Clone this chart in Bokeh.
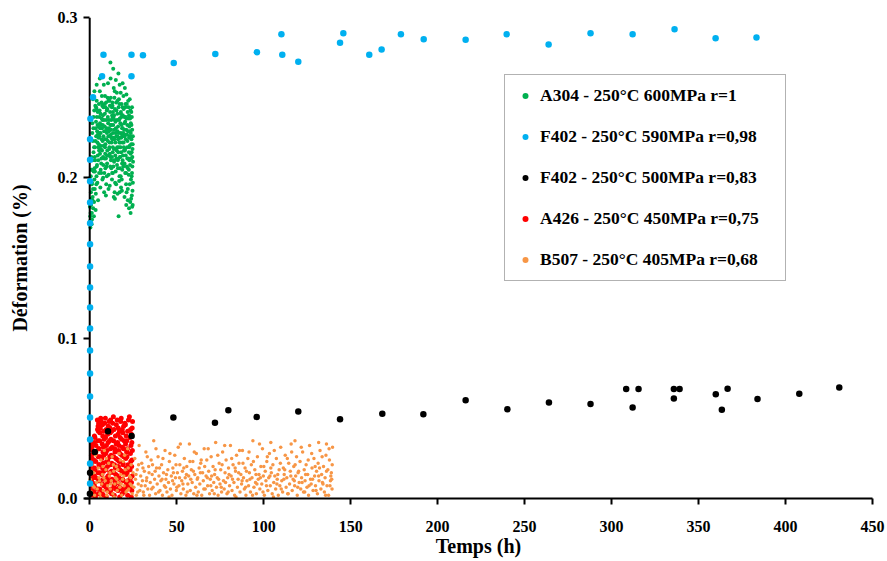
from bokeh.plotting import figure
from bokeh.models import Range1d, FixedTicker, PrintfTickFormatter, Legend, LegendItem, Span
from bokeh.embed import file_html
from bokeh.resources import INLINE

# ---------------- data (time in h, deformation in %) ----------------
x_ticks = [0, 50, 100, 150, 200, 250, 300, 350, 400, 450]
y_ticks = [0.0, 0.1, 0.2, 0.3]

labels = ["A304 - 250°C 600MPa r=1",
          "F402 - 250°C 590MPa r=0,98",
          "F402 - 250°C 500MPa r=0,83",
          "A426 - 250°C 450MPa r=0,75",
          "B507 - 250°C 405MPa r=0,68"]

A304 = [
(5.2,.221),(13.1,.238),(18.7,.205),(9.4,.247),(22.3,.212),(3.8,.196),(16.0,.229),(24.1,.201),(11.2,.218),(7.5,.233),(20.5,.244),(14.3,.191),(6.6,.209),(22.9,.226),(1.7,.188),(17.8,.253),(9.9,.214),(24.8,.197),(12.4,.236),(5.7,.242),
(19.6,.219),(8.4,.203),(15.2,.247),(3.1,.211),(21.6,.233),(10.7,.226),(16.9,.198),(4.3,.229),(23.5,.215),(13.8,.256),(7.1,.217),(19.0,.239),(11.8,.207),(2.4,.176),(20.9,.196),(14.7,.222),(8.8,.251),(24.4,.230),(6.1,.194),(17.5,.213),
(12.7,.244),(3.6,.235),(20.1,.227),(9.3,.189),(15.8,.236),(21.9,.186),(7.9,.226),(14.0,.210),(1.1,.171),(18.6,.231),(10.4,.238),(23.2,.208),(4.9,.219),(16.6,.244),(11.5,.195),(21.1,.252),(6.9,.237),(24.7,.183),(13.4,.228),(2.7,.199),
(18.1,.216),(9.7,.231),(22.6,.239),(5.4,.203),(14.9,.204),(0.8,.183),(19.3,.207),(12.1,.250),(6.3,.228),(23.8,.221),(8.5,.212),(17.2,.225),(4.0,.248),(20.7,.214),(13.3,.219),(1.9,.193),(16.1,.211),(10.2,.243),(24.2,.189),(7.7,.200),
(21.4,.227),(4.6,.214),(12.9,.203),(18.3,.246),(9.0,.221),(23.0,.196),(5.8,.254),(15.5,.217),(1.4,.205),(19.9,.234),(11.0,.229),(24.5,.213),(7.2,.245),(13.7,.238),(3.4,.180),(17.4,.206),(22.1,.248),(10.0,.209),(16.3,.232),(8.1,.258),
(20.4,.203),(12.5,.225),(2.2,.216),(18.8,.222),(6.7,.212),(23.6,.234),(14.5,.243),(5.0,.225),(21.2,.191),(11.6,.215),(0.5,.178),(17.9,.240),(9.5,.196),(22.7,.219),(14.1,.230),(6.0,.231),(19.4,.251),(3.3,.223),(17.1,.201),(10.6,.234),
(24.9,.210),(7.4,.223),(15.6,.253),(2.8,.206),(21.8,.241),(13.6,.207),(8.7,.240),(18.4,.199),(4.5,.233),(24.0,.224),(11.3,.248),(16.4,.216),(1.5,.228),(20.3,.218),(9.2,.229),(23.3,.185),(12.8,.213),(5.6,.238),(19.7,.226),(14.6,.197),
(7.0,.251),(22.5,.205),(11.9,.233),(3.9,.201),(17.6,.234),(1.3,.197),(21.0,.230),(10.1,.217),(15.3,.226),(24.6,.192),(8.2,.236),(19.1,.214),(4.2,.208),(16.8,.249),(13.4,.241),(23.7,.199),(6.2,.220),(20.8,.238),(10.9,.202),(15.0,.231),
(2.1,.231),(18.5,.227),(9.6,.224),(22.8,.211),(13.9,.218),(5.3,.246),(17.0,.222),(23.9,.241),(7.8,.208),(12.3,.230),(20.0,.209),(3.0,.219),(15.9,.240),(21.7,.223),(8.9,.215),(0.4,.169),(18.2,.238),(11.4,.222),(24.3,.203),(6.5,.233),
(14.2,.224),(2.6,.242),(19.5,.243),(10.3,.250),(23.1,.229),(4.7,.227),(16.7,.228),(12.2,.211),(21.3,.207),(7.6,.239),(15.4,.212),(1.0,.213),(20.6,.246),(9.8,.201),(23.4,.226),(13.0,.247),(5.9,.215),(17.7,.219),(3.7,.244),(22.2,.237),
(11.7,.241),(18.9,.211),(6.8,.224),(24.7,.221),(14.8,.235),(0.3,.176),(16.2,.206),(21.5,.219),(8.6,.232),(13.2,.216),(4.1,.238),(19.8,.230),(11.1,.236),(22.4,.202),(1.8,.223),(17.3,.237),(9.1,.244),(24.1,.216),(5.5,.226),(14.4,.254),
(2.0,.181),(0.7,.191),(2.5,.185),(0.2,.173),(1.2,.178),(3.5,.190),(1.6,.186),(0.6,.201),(2.9,.193),(0.1,.182),(4.4,.197),(0.9,.187),(2.3,.204),(4.8,.186),(1.3,.174),(3.2,.245),(1.9,.249),(2.7,.254),(4.0,.258),(5.8,.262),
(12.0,.262),(16.5,.265),(15.0,.261),(18.9,.259),(13.5,.268),(10.5,.259),(17.2,.258),(11.9,.272),(20.2,.256),(23.0,.249),(24.3,.244),(21.0,.183),(22.6,.181),(23.8,.187),(23.5,.178),(24.4,.182),(21.9,.193),(20.0,.188),(18.5,.192),(16.0,.190),
(15.2,.196),(17.2,.191),(18.0,.194),(16.6,.176),(14.5,.187),(12.8,.199),(13.8,.188),(10.8,.193),(9.7,.207),(8.3,.191),(7.3,.199),(6.3,.205),(4.9,.211),(8.7,.224),(9.9,.228),(11.5,.226),(12.6,.222),(13.7,.225),(15.8,.219),(17.9,.228),
(2.2,.238),(3.7,.226),(4.6,.241),(6.4,.218),(7.9,.244),(8.3,.229),(9.5,.236),(10.8,.248),(11.3,.219),(12.6,.233),(13.1,.245),(14.7,.214),(15.4,.242),(16.3,.224),(17.1,.246),(18.6,.209),(19.2,.228),(20.4,.235),(21.3,.246),(22.6,.225),(23.2,.237),(24.5,.207),
(1.6,.211),(3.0,.204),(4.4,.222),(5.9,.234),(6.8,.247),(7.7,.213),(9.0,.206),(10.4,.223),(11.9,.213),(12.4,.206),(13.5,.233),(14.2,.250),(15.7,.208),(16.9,.236),(17.8,.201),(18.3,.233),(19.7,.217),(20.7,.224),(21.9,.206),(22.3,.244),(23.9,.212),(24.8,.226),
(1.2,.196),(2.5,.219),(3.4,.231),(5.1,.232),(6.2,.240),(7.3,.236),(8.8,.219),(9.8,.242),(11.1,.231),(12.9,.239),(13.9,.211),(14.9,.228),(15.9,.226),(16.7,.219),(17.4,.213),(18.9,.244),(19.5,.222),(20.2,.217),(21.1,.237),(22.8,.232),(23.6,.228),(24.2,.238),
(0.9,.205),(2.9,.213),(4.0,.207),(5.4,.217),(6.6,.203),(8.0,.220),(8.6,.246),(10.0,.229),(10.9,.214),(12.2,.227),(13.3,.203),(14.4,.236),(15.2,.218),(16.0,.248),(17.6,.222),(18.1,.225),(19.0,.231),(20.0,.226),(21.6,.212),(22.0,.229),(23.0,.220),(24.6,.218),
(1.5,.234),(3.9,.243),(5.6,.228),(7.0,.231),(9.3,.212),(11.6,.245),(13.0,.224),(14.0,.239),(16.5,.212),(17.9,.241),(19.9,.238),(20.9,.203),(22.5,.216),(23.4,.242),(24.0,.233),
]

F402_590 = [
(1.9,.2503),(0.4,.2369),(0.2,.2240),(0.2,.2113),(0.2,.1979),(0.2,.1846),(0.2,.1716),(0.2,.1585),(0.2,.1447),(0.2,.1316),
(0.2,.1191),(0.2,.1060),(0.2,.0923),(0.2,.0780),(0.2,.0636),(0.2,.0505),(0.2,.0368),(0.2,.0218),(0.2,.0094),
(7.1,.2633),(7.9,.2768),(24.0,.2633),(24.0,.2768),(30.6,.2764),(48.3,.2716),(72.2,.2772),(96.1,.2784),(110.2,.2895),
(110.7,.2768),(119.9,.2724),(143.9,.2843),(145.8,.2901),(160.7,.2768),(167.8,.2801),(178.9,.2895),(192.0,.2865),
(216.1,.2862),(239.7,.2895),(263.8,.2832),(287.9,.2901),(312.1,.2895),(336.2,.2926),(359.8,.2870),(383.3,.2876),
]

F402_500 = [
(0.1,.003),(0.2,.016),(2.9,.029),(10.5,.042),(24.1,.039),(48.1,.0505),(72.0,.0472),(79.7,.055),(96.0,.0509),
(119.9,.0542),(143.9,.0494),(168.2,.0528),(191.8,.0525),(216.1,.0613),(240.1,.0557),(264.0,.0598),(287.9,.059),
(308.4,.0683),(312.1,.0567),(315.5,.0683),(335.8,.0683),(335.8,.0623),(339.1,.0683),(359.9,.065),(363.4,.0553),
(366.7,.0685),(383.9,.0621),(407.9,.0654),(430.9,.0692),
]

A426 = [
(1.2,.002),(3.3,.001),(5.0,.003),(7.9,.002),(9.5,.001),(12.6,.003),(14.1,.002),(17.2,.001),(18.7,.003),(21.8,.002),(23.9,.001),
(1.1,.005),(2.5,.004),(5.8,.006),(7.1,.004),(10.3,.005),(11.8,.004),(14.9,.006),(16.3,.005),(19.5,.004),(20.9,.006),(24.2,.005),
(1.0,.008),(3.0,.007),(4.7,.006),(8.2,.008),(9.4,.007),(12.4,.006),(14.0,.008),(17.1,.007),(18.6,.006),(21.6,.008),(23.3,.007),
(1.4,.010),(2.6,.009),(5.6,.011),(7.3,.009),(10.1,.010),(11.7,.011),(14.6,.009),(16.4,.010),(19.3,.011),(21.1,.009),(24.0,.010),
(1.1,.012),(3.4,.013),(5.1,.011),(7.8,.012),(9.9,.013),(12.8,.012),(14.3,.011),(16.9,.013),(18.9,.012),(21.9,.011),(23.5,.013),
(1.2,.015),(2.7,.014),(5.9,.016),(7.0,.015),(10.5,.014),(11.6,.016),(15.0,.015),(16.2,.014),(19.7,.016),(20.8,.015),(24.4,.014),
(1.3,.017),(3.1,.018),(4.8,.016),(8.0,.017),(9.3,.018),(12.5,.017),(13.9,.016),(17.3,.018),(18.5,.017),(21.5,.016),(23.2,.018),
(1.0,.020),(2.8,.019),(5.5,.021),(7.4,.019),(10.2,.020),(11.9,.021),(14.7,.019),(16.5,.020),(19.2,.021),(21.0,.019),(24.1,.020),
(1.2,.022),(3.5,.023),(5.3,.021),(7.7,.022),(9.7,.023),(12.7,.022),(14.2,.021),(17.0,.023),(19.1,.022),(22.0,.021),(23.6,.023),
(1.3,.025),(2.4,.024),(6.0,.026),(6.9,.025),(10.4,.024),(11.5,.026),(15.1,.025),(16.1,.024),(19.6,.026),(20.7,.025),(24.3,.024),
(1.0,.027),(3.2,.028),(4.9,.026),(8.1,.027),(9.2,.028),(12.3,.027),(13.8,.026),(17.4,.028),(18.4,.027),(21.4,.026),(23.4,.028),
(1.5,.030),(2.9,.029),(5.4,.031),(7.6,.029),(10.0,.030),(12.0,.031),(14.5,.029),(16.6,.030),(19.4,.031),(21.2,.029),(24.5,.030),
(1.1,.032),(3.6,.033),(5.2,.031),(7.9,.032),(9.6,.033),(12.9,.032),(14.4,.031),(16.8,.033),(18.8,.032),(21.7,.031),(23.7,.033),
(1.4,.034),(2.6,.035),(5.7,.036),(7.2,.034),(10.6,.035),(11.4,.036),(15.2,.034),(16.0,.035),(19.8,.036),(20.6,.034),(24.2,.035),
(3.0,.038),(4.6,.036),(8.3,.037),(9.1,.038),(12.2,.037),(13.7,.036),(17.5,.038),(18.3,.037),(21.3,.036),(23.1,.038),
(2.7,.039),(5.8,.041),(7.5,.039),(10.3,.040),(11.8,.041),(14.8,.039),(16.3,.040),(19.0,.041),(20.9,.039),(24.0,.040),
(4.5,.043),(5.0,.042),(8.0,.042),(9.5,.043),(12.6,.042),(14.0,.043),(17.1,.042),(18.7,.043),(21.8,.042),(23.5,.043),
(4.8,.045),(6.1,.044),(7.3,.046),(10.7,.045),(11.6,.044),(15.3,.046),(16.4,.044),(19.5,.045),(20.5,.046),(24.4,.044),
(5.1,.047),(4.4,.049),(6.6,.048),(8.6,.047),(9.0,.050),(11.1,.048),(13.2,.047),(13.6,.051),(15.8,.049),(17.8,.048),
(18.1,.050),(20.2,.047),(22.3,.049),(22.8,.051),(24.6,.048),(6.3,.050),(12.0,.049),
]

B507 = [
(0.3,.012),(0.8,.004),(1.4,.021),(1.9,.008),(2.3,.016),(2.8,.002),(3.4,.027),(3.9,.010),(4.3,.006),(4.9,.019),(5.3,.013),(5.8,.003),(6.4,.024),(6.9,.009),(7.3,.015),
(7.8,.005),(8.4,.030),(8.9,.011),(9.3,.018),(9.8,.002),(10.4,.008),(10.9,.022),(11.3,.014),(11.8,.006),(12.4,.011),(12.9,.026),(13.3,.003),(13.8,.017),(14.4,.009),(14.9,.013),
(15.3,.020),(15.8,.005),(16.4,.010),(16.9,.028),(17.3,.007),(17.8,.015),(18.4,.002),(18.9,.012),(19.3,.023),(19.8,.008),(20.4,.018),(20.9,.004),(21.3,.011),(21.8,.031),(22.4,.006),
(22.9,.014),(23.3,.009),(23.8,.021),(24.4,.003),(24.9,.016),(25.4,.007),(25.9,.025),(26.3,.012),(26.8,.002),(27.3,.018),(27.9,.009),(28.4,.033),(28.8,.005),(29.3,.014),(29.9,.022),
(30.3,.011),(30.8,.004),(31.4,.017),(31.9,.008),(32.3,.029),(32.8,.013),(33.4,.006),(33.9,.020),(34.4,.002),(34.8,.010),(35.3,.024),(35.9,.015),(36.4,.007),(36.8,.036),(37.3,.012),
(37.9,.003),(38.4,.019),(38.8,.009),(39.3,.026),(39.8,.014),(40.4,.005),(40.9,.011),(41.3,.021),(41.8,.002),(42.4,.016),(42.9,.008),(43.3,.030),(43.8,.012),(44.4,.004),(44.9,.018),
(45.3,.010),(45.8,.023),(46.4,.006),(46.9,.014),(47.3,.002),(47.8,.019),(48.4,.009),(48.9,.027),(49.3,.013),(49.8,.005),(50.4,.016),(50.9,.032),(51.3,.008),(51.8,.021),(52.4,.003),
(52.9,.011),(53.3,.017),(53.8,.006),(54.4,.025),(54.9,.013),(55.3,.002),(55.8,.020),(56.4,.009),(56.9,.014),(57.3,.034),(57.8,.005),(58.4,.018),(58.9,.010),(59.3,.023),(59.8,.003),
(60.4,.015),(60.9,.007),(61.3,.028),(61.8,.012),(62.4,.004),(62.9,.019),(63.3,.009),(63.8,.022),(64.4,.002),(64.9,.016),(65.3,.011),(65.8,.031),(66.4,.006),(66.9,.014),(67.3,.024),
(67.8,.008),(68.4,.017),(68.9,.003),(69.3,.012),(69.8,.026),(70.4,.005),(70.9,.020),(71.3,.010),(71.8,.015),(72.4,.035),(72.9,.007),(73.3,.013),(73.8,.002),(74.4,.022),(74.9,.009),
(75.3,.018),(75.8,.004),(76.4,.029),(76.9,.011),(77.3,.006),(77.8,.016),(78.4,.024),(78.9,.003),(79.3,.013),(79.8,.019),(80.4,.008),(80.9,.033),(81.3,.014),(81.8,.005),(82.4,.021),
(82.9,.010),(83.3,.002),(83.8,.017),(84.4,.027),(84.9,.007),(85.3,.012),(85.8,.022),(86.4,.004),(86.9,.015),(87.3,.009),(87.8,.030),(88.4,.013),(88.9,.006),(89.3,.019),(89.8,.002),
(90.4,.011),(90.9,.025),(91.3,.008),(91.8,.016),(92.4,.004),(92.9,.021),(93.3,.013),(93.8,.036),(94.4,.007),(94.9,.018),(95.3,.010),(95.8,.003),(96.4,.026),(96.9,.012),(97.3,.015),
(97.8,.006),(98.4,.020),(98.9,.009),(99.3,.031),(99.8,.014),(100.4,.002),(100.9,.017),(101.3,.011),(101.8,.023),(102.4,.005),(102.9,.013),(103.3,.028),(103.8,.008),(104.4,.016),(104.9,.003),
(105.3,.021),(105.8,.010),(106.4,.014),(106.9,.006),(107.3,.025),(107.8,.012),(108.4,.002),(108.9,.018),(109.3,.008),(109.8,.032),(110.4,.011),(110.9,.004),(111.3,.019),(111.8,.015),(112.4,.027),
(112.9,.007),(113.3,.013),(113.8,.003),(114.4,.022),(114.9,.009),(115.3,.017),(115.8,.034),(116.4,.005),(116.9,.012),(117.3,.020),(117.8,.008),(118.4,.014),(118.9,.026),(119.3,.002),(119.8,.016),
(120.4,.010),(120.9,.023),(121.3,.006),(121.8,.013),(122.4,.029),(122.9,.004),(123.3,.018),(123.8,.011),(124.4,.021),(124.9,.007),(125.3,.015),(125.8,.002),(126.4,.033),(126.9,.012),(127.3,.009),
(127.8,.019),(128.4,.005),(128.9,.025),(129.3,.014),(129.8,.008),(130.4,.017),(130.9,.003),(131.3,.022),(131.8,.011),(132.4,.030),(132.9,.006),(133.3,.015),(133.8,.010),(134.4,.020),(134.9,.004),
(135.3,.013),(135.8,.027),(136.4,.008),(136.9,.018),(137.3,.002),(137.8,.024),(138.4,.011),(138.9,.016),(139.3,.006),(139.6,.032),(139.1,.012),(136.1,.034),(131.6,.035),(118.0,.036),(104.1,.035),
(1.1,.017),(2.6,.007),(4.1,.029),(5.6,.011),(6.1,.001),(7.6,.020),(8.1,.013),(9.6,.025),(10.1,.004),(11.6,.016),(12.1,.009),(13.6,.021),(14.1,.001),(15.6,.012),(16.1,.018),(17.6,.024),(18.1,.009),(19.6,.014),(20.1,.027),(21.6,.005),(22.1,.019),(23.6,.013),(24.1,.008),
(26.6,.015),(27.6,.004),(28.1,.021),(29.6,.008),(30.6,.019),(31.1,.002),(32.6,.011),(33.1,.026),(34.1,.016),(35.6,.006),(36.1,.021),(37.6,.017),(38.1,.031),(39.6,.004),(40.1,.019),(41.6,.012),(42.1,.025),(43.6,.007),(44.1,.015),(45.6,.001),
(46.1,.028),(47.6,.011),(48.1,.016),(49.6,.021),(50.1,.007),(51.6,.013),(52.1,.034),(53.6,.009),(54.1,.019),(55.6,.015),(56.1,.004),(57.6,.023),(58.1,.012),(59.6,.017),(60.1,.029),(61.6,.002),(62.1,.013),(63.6,.016),(64.1,.024),(65.6,.006),
(66.1,.020),(67.6,.013),(68.1,.031),(69.6,.008),(70.1,.014),(71.6,.003),(72.1,.018),(73.6,.027),(74.1,.012),(75.6,.007),(76.1,.021),(77.6,.033),(78.1,.010),(79.6,.004),(80.1,.015),(81.6,.025),(82.1,.012),(83.6,.019),(84.1,.001),(85.6,.016),
(86.1,.030),(87.6,.011),(88.1,.022),(89.6,.007),(90.1,.017),(91.6,.029),(92.1,.012),(93.6,.002),(94.1,.023),(95.6,.015),(96.1,.009),(97.6,.034),(98.1,.013),(99.6,.004),(100.1,.020),(101.6,.008),(102.1,.026),(103.6,.014),(104.1,.019),(105.6,.001),
(106.1,.030),(107.6,.009),(108.1,.015),(109.6,.022),(110.1,.006),(111.6,.012),(112.1,.018),(113.6,.025),(114.1,.003),(115.6,.014),(116.1,.029),(117.6,.011),(118.1,.021),(119.6,.007),(120.1,.017),(121.6,.032),(122.1,.010),(123.6,.004),(124.1,.015),(125.6,.024),
(126.1,.008),(127.6,.028),(128.1,.012),(129.6,.020),(130.1,.005),(131.6,.014),(132.1,.019),(133.6,.026),(134.1,.009),(135.6,.002),(136.1,.017),(137.6,.031),(138.1,.008),(139.4,.021),(138.6,.014),
]

colors = ["#00B050", "#00B0F0", "#000000", "#FF0000", "#F79646"]
series = [A304, F402_590, F402_500, A426, B507]
sizes = [4, 6.5, 6.5, 5, 3.5]
levels = ["glyph", "overlay", "overlay", "glyph", "glyph"]
draw_order = [0, 3, 4, 1, 2]

FONT = "Liberation Serif"

p = figure(width=887, height=561, output_backend="svg", toolbar_location=None,
           x_range=Range1d(-3, 450), y_range=Range1d(0, 0.3),
           min_border_left=84, min_border_top=17, min_border_right=15, min_border_bottom=63)
p.outline_line_color = None
p.xgrid.visible = False
p.ygrid.visible = False
p.background_fill_color = "white"
p.border_fill_color = "white"

renderers = {}
for i in draw_order:
    pts = series[i]
    xs = [a for a, b in pts]
    ys = [b for a, b in pts]
    renderers[i] = p.scatter(xs, ys, size=sizes[i], marker="circle",
                             fill_color=colors[i], line_color=None, level=levels[i])

for ax in (p.xaxis[0], p.yaxis[0]):
    ax.axis_line_width = 2
    ax.axis_line_color = "black"
    ax.major_tick_line_width = 2
    ax.major_tick_line_color = "black"
    ax.major_tick_out = 6
    ax.major_tick_in = 0
    ax.minor_tick_out = 0
    ax.minor_tick_in = 0
    ax.major_label_text_font = FONT
    ax.major_label_text_font_style = "bold"
    ax.major_label_text_font_size = "16px"
    ax.major_label_text_color = "black"
    ax.axis_label_text_font = FONT
    ax.axis_label_text_font_style = "bold"
    ax.axis_label_text_font_size = "20px"
    ax.axis_label_text_color = "black"

p.xaxis[0].ticker = FixedTicker(ticks=x_ticks)
p.yaxis[0].ticker = FixedTicker(ticks=y_ticks)
p.yaxis[0].formatter = PrintfTickFormatter(format="%.1f")
p.xaxis[0].axis_label = "Temps (h)"
p.yaxis[0].axis_label = "Déformation (%)"
p.xaxis[0].major_label_standoff = 16
p.xaxis[0].axis_label_standoff = 0

# vertical axis drawn at t = 0 (frame starts slightly left so markers at t=0 stay whole)
yax = p.yaxis[0]
yax.axis_line_color = None
yax.major_tick_out = 1
yax.major_tick_in = 5
yax.major_label_standoff = 6
yax.axis_label_standoff = 24
p.add_layout(Span(location=0, dimension="height", line_color="black", line_width=2))

items = [LegendItem(label=labels[i], renderers=[renderers[i]]) for i in range(5)]
legend = Legend(items=items, location=(420, 217),
                label_text_font=FONT, label_text_font_style="bold",
                label_text_font_size="17.5px", label_text_color="black",
                label_height=20, glyph_height=15, glyph_width=20,
                label_standoff=5, label_width=235,
                padding=10, spacing=20, margin=0,
                border_line_color="#666666", border_line_width=1,
                background_fill_color="white", background_fill_alpha=1)
p.add_layout(legend, "center")

open("out.html", "w").write(file_html(p, INLINE))
